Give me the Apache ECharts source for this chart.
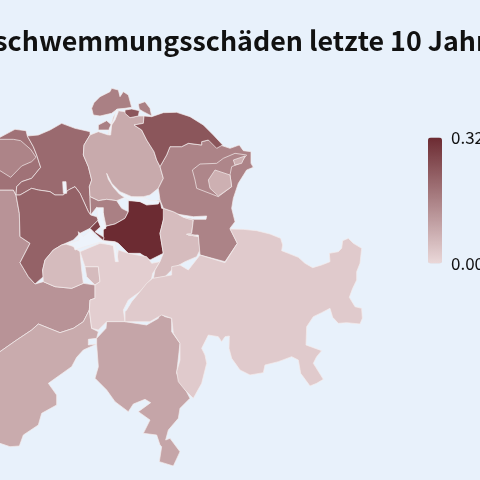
<!DOCTYPE html>
<html>
<head>
<meta charset="utf-8">
<script src="https://cdn.jsdelivr.net/npm/echarts@6/dist/echarts.min.js"></script>
<style>html,body{margin:0;padding:0;background:#e8f1fb}#chart{width:480px;height:480px}</style>
</head>
<body>
<div id="chart"></div>
<script>
const titleText = 'Überschwemmungsschäden letzte 10 Jahre';
const cantons = ['Bern','Valais','Solothurn','Basel-Landschaft','Aargau','Luzern','Zürich','Zug','Schwyz','Nidwalden','Obwalden','Obwalden2','Uri','Glarus','St. Gallen','Thurgau','Schaffhausen','Appenzell AR','Appenzell AI','Ticino','Graubünden'];
const damage = [0.127,0.084,0.188,0.155,0.203,0.218,0.086,0.163,0.32,0.277,0.053,0.053,0.018,0.051,0.157,0.241,0.163,0.152,0.074,0.094,0.025];
const scaleMin = 0;
const scaleMax = 0.32;
const rampColors = ['#ead8d9','#6c2b32'];

const shift = (dx, dy) => pts => pts.map(([x, y]) => [x + dx, y + dy]);
const z1 = shift(0, 0), z2 = shift(540, 0), z3 = shift(0, 570), z4 = shift(390, 420);

const outlines = {
  'Bern': [[...z1([[-30,330],[40,330],[48,345],[58,400],[60,470],[90,490],[60,548],[85,590],[105,612]]),
    ...z3([[130,35],[165,50],[215,55],[250,40],[285,45],[285,85],[270,90],[268,120],[250,155],[220,175],[180,188],[115,162],[95,180],[50,210],[0,245],[-30,260]])]],
  'Valais': [z3([[-30,260],[0,245],[50,210],[95,180],[115,162],[180,188],[220,175],[250,155],[268,120],[275,175],[295,185],[290,205],[265,208],[265,225],[290,222],[250,240],[230,262],[215,290],[180,315],[145,340],[170,375],[170,405],[125,430],[115,465],[70,495],[58,528],[30,530],[0,520],[-30,510]])],
  'Solothurn': [z1([[-30,185],[0,172],[45,148],[78,152],[82,168],[100,200],[110,225],[122,262],[95,295],[65,305],[50,320],[48,345],[40,330],[-30,330]])],
  'Basel-Landschaft': [z1([[-30,178],[0,178],[40,178],[62,182],[92,208],[108,232],[95,245],[65,258],[32,292],[0,272],[-30,260]])],
  'Aargau': [z1([[82,168],[115,165],[150,150],[185,130],[225,145],[270,155],[270,165],[252,195],[250,225],[265,260],[275,300],[268,320],[270,350],[272,405],[265,395],[240,340],[225,320],[205,330],[190,345],[165,345],[150,335],[115,330],[95,325],[60,345],[48,345],[50,320],[65,305],[95,295],[122,262],[110,225],[100,200]])],
  'Luzern': [z1([[48,345],[60,345],[95,325],[115,330],[150,335],[165,345],[190,345],[205,330],[225,320],[240,340],[265,395],[272,405],[290,410],[295,420],[270,445],[240,460],[220,480],[185,495],[160,510],[135,540],[128,570],[130,590],[105,612],[85,590],[60,548],[90,490],[60,470],[58,400]])],
  'Zürich': [z1([[352,92],[375,95],[390,113],[415,108],[432,108],[430,130],[402,135],[425,150],[440,180],[462,215],[470,240],[480,260],[490,295],[475,325],[450,345],[430,350],[375,352],[350,362],[320,358],[295,362],[270,350],[268,320],[275,300],[265,260],[250,225],[252,195],[270,165],[295,155],[325,165],[340,110]])],
  'Zug': [z1([[270,350],[295,362],[320,358],[350,362],[365,385],[385,395],[375,415],[345,432],[318,438],[310,400],[290,382],[272,405]])],
  'Schwyz': [z1([[385,362],[420,364],[440,372],[480,360],[485,385],[498,388],[490,420],[480,460],[490,520],[450,540],[420,520],[385,520],[355,490],[345,485],[310,482],[310,450],[320,438],[345,432],[375,415],[385,395]])],
  'Nidwalden': [z1([[270,445],[295,420],[302,440],[285,455],[312,472],[310,482],[285,460]])],
  'Obwalden': [[...z1([[128,570],[135,540],[160,510],[185,495],[210,490],[225,505],[240,515],[245,570],[250,610]]),
    ...z3([[215,55],[165,50],[130,35]])]],
  'Obwalden2': [z3([[255,-10],[295,-10],[300,35],[285,45],[260,20]])],
  'Uri': [[...z1([[240,515],[300,490],[340,495],[350,545],[355,510],[385,520],[440,530],[455,550],[480,545],[465,570],[458,580]]),
    ...z3([[455,25],[440,45],[420,65],[385,90],[370,120],[375,155],[320,155],[295,180],[275,175],[268,120],[270,90],[285,85],[285,45],[300,35],[295,-10],[255,-10]])]],
  'Glarus': [z1([[490,385],[520,395],[560,415],[580,420],[575,460],[560,463],[595,470],[600,510],[590,530],[555,545],[520,565],[495,590],[460,596],[465,570],[480,545],[490,520],[480,460],[490,420]])],
  'St. Gallen': [[...z1([[480,260],[500,225],[510,200],[545,200],[565,190],[605,195]]),
    ...z2([[65,185],[95,178],[120,195],[150,205],[178,195],[190,212],[213,215],[213,250],[220,262],[200,270],[175,310],[160,355],[155,385],[165,425],[150,445],[172,490],[135,545],[60,525],[55,465],[25,465],[35,463]]),
    ...z1([[595,470],[560,463],[575,460],[580,420],[560,415],[520,395],[490,385],[480,360],[475,325],[490,295]])]],
  'Thurgau': [z1([[375,90],[395,87],[418,92],[415,108],[390,113],[375,100]]),
    z1([[432,108],[455,110],[490,98],[530,97],[570,110],[610,135],[640,165],[668,195],[650,205],[625,180],[605,185],[605,195],[565,190],[545,200],[510,200],[500,225],[480,260],[470,240],[462,215],[440,180],[425,150],[402,135],[430,130]])],
  'Schaffhausen': [z1([[275,85],[282,68],[300,50],[330,35],[335,25],[355,30],[360,50],[370,35],[385,45],[395,82],[375,85],[352,87],[335,100],[300,108],[280,105]]),
    z1([[415,72],[435,65],[450,85],[455,108],[430,95],[418,88]]),
    z1([[295,135],[320,122],[335,135],[328,150],[295,150]])],
  'Appenzell AR': [z2([[37,270],[60,252],[110,250],[130,235],[165,220],[200,225],[180,250],[155,260],[150,285],[155,320],[115,350],[50,325],[45,300]])],
  'Appenzell AI': [z2([[85,300],[105,270],[150,285],[155,320],[115,348],[90,325]]),
    z2([[160,240],[195,228],[185,250],[165,255]])],
  'Ticino': [z3([[375,155],[440,165],[475,145],[480,130],[495,140],[515,145],[515,185],[540,220],[530,310],[570,385],[540,415],[535,445],[505,480],[497,510],[510,505],[540,545],[520,588],[478,575],[485,530],[480,525],[470,495],[430,490],[450,450],[415,425],[452,398],[435,388],[400,402],[385,425],[345,395],[320,360],[285,325],[295,290],[290,225],[290,205],[318,175],[320,155]])],
  'Graubünden': [z4([[68,175],[125,165],[125,140],[150,135],[175,150],[210,105],[285,128],[322,70],[300,27],[340,28],[380,32],[420,42],[452,55],[458,75],[455,92],[475,100],[505,112],[525,130],[548,143],[575,135],[600,125],[598,100],[625,95],[635,85],[638,62],[655,55],[670,70],[695,85],[690,130],[680,155],[680,180],[668,205],[658,232],[675,260],[695,265],[697,295],[690,312],[650,308],[625,310],[608,292],[600,265],[575,278],[550,290],[530,320],[528,375],[575,392],[560,410],[550,430],[580,478],[560,490],[540,498],[512,460],[505,420],[485,410],[445,425],[405,435],[400,458],[360,465],[330,450],[305,415],[297,385],[298,348],[285,350],[275,365],[265,350],[235,345],[215,385],[225,405],[230,430],[215,490],[190,535],[165,510],[145,485],[140,455],[150,420],[150,370],[130,340],[125,295],[95,285],[60,305],[-15,305],[-15,275],[-10,270],[5,245],[30,215],[50,190]])],
  // lakes, left without a value so they keep the background colour
  'Zürichsee': [z1([[320,280],[335,310],[360,335],[395,350],[430,352],[455,362],[480,362],[475,372],[440,375],[420,365],[385,360],[358,342],[340,322],[325,298]])],
  'Walensee': [z1([[535,403],[580,410],[620,408],[618,418],[580,418],[550,412]])],
  'Zugersee': [z1([[290,383],[310,383],[310,420],[318,445],[305,448],[295,425]])],
  'Vierwaldstättersee': [z1([[235,455],[250,470],[272,450],[285,470],[310,482],[345,487],[355,545],[346,545],[340,497],[300,487],[260,498],[225,510],[222,500],[200,493],[238,480]])],
  'Sempachersee': [z1([[188,305],[198,305],[200,340],[190,340]])],
  'Rhein': [z1([[350,88],[355,95],[345,120],[335,135],[332,165],[326,165],[328,145],[340,120]])]
};

const features = Object.keys(outlines).map(name => ({
  type: 'Feature',
  properties: { name },
  geometry: {
    type: 'MultiPolygon',
    coordinates: outlines[name].map(ring => {
      const pts = ring.map(([x, y]) => [x / 3, -(y / 3 + 80)]);
      return [[...pts, pts[0]]];
    })
  }
}));
echarts.registerMap('schweiz', { type: 'FeatureCollection', features });

const chart = echarts.init(document.getElementById('chart'));
const fontName = 'Noto Sans CJK SC';
chart.setOption({
  backgroundColor: '#e8f1fb',
  animation: false,
  title: {
    text: titleText,
    left: -75,
    top: 22,
    textStyle: { fontFamily: fontName, fontSize: 26.8, fontWeight: 700, color: '#111' }
  },
  visualMap: {
    type: 'continuous',
    min: scaleMin,
    max: scaleMax,
    precision: 2,
    align: 'left',
    padding: 0,
    left: 428,
    top: 129,
    itemWidth: 14,
    itemHeight: 126,
    calculable: true,
    realtime: false,
    handleSize: 1,
    handleStyle: { opacity: 0 },
    indicatorSize: 1,
    indicatorStyle: { opacity: 0 },
    inRange: { color: rampColors },
    textStyle: { fontFamily: fontName, fontSize: 17, color: '#111', padding: [0, 0, 0, 15] }
  },
  series: [{
    type: 'map',
    map: 'schweiz',
    aspectScale: 1,
    boundingCoords: [[0, 0], [480, -480]],
    left: 0,
    top: 0,
    width: 480,
    height: 480,
    silent: true,
    label: { show: false },
    itemStyle: { areaColor: '#edf3fb', borderColor: '#f4ecec', borderWidth: 0.7 },
    data: cantons.map((name, i) => ({ name, value: damage[i] }))
  }]
});
</script>
</body>
</html>
